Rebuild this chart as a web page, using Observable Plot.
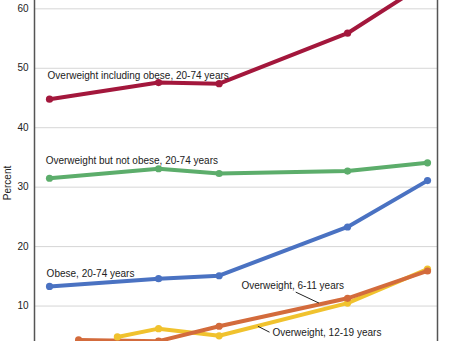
<!DOCTYPE html>
<html><head><meta charset="utf-8">
<script src="https://cdn.jsdelivr.net/npm/d3@7"></script>
<script src="https://cdn.jsdelivr.net/npm/@observablehq/plot@0.6"></script>
<style>html,body{margin:0;padding:0;overflow:hidden;background:#fff;width:454px;height:341px}</style>
</head><body><div id="chart"></div>
<script>
// Survey period midpoints (years)
const xAdult = [1961, 1972.25, 1978.5, 1991.75, 2000];
const xChild = [1964, 1972.25, 1978.5, 1991.75, 2000];
const xTeen  = [1968, 1972.25, 1978.5, 1991.75, 2000];

const seriesNames = [
  "Overweight including obese, 20-74 years",
  "Overweight but not obese, 20-74 years",
  "Obese, 20-74 years",
  "Overweight, 12-19 years",
  "Overweight, 6-11 years"
];
const seriesColors = ["#a3173c", "#5cad6b", "#4a72c2", "#f0c22e", "#d36b3c"];

const overweightInclObese = [44.8, 47.6, 47.4, 55.9, 64.5];
const overweightNotObese  = [31.5, 33.1, 32.3, 32.7, 34.1];
const obese               = [13.3, 14.6, 15.1, 23.3, 31.1];
const overweight12to19    = [4.8, 6.2, 5.0, 10.5, 16.2];
const overweight6to11     = [4.3, 4.1, 6.6, 11.3, 15.9];

const yTicks = [10, 20, 30, 40, 50, 60];
const xDomain = [1959.45, 2001.03];
const yDomain = [0, 61.4];

// Label annotations (text, anchor year, value)
const labelText = ["Overweight including obese, 20-74 years", "Overweight but not obese, 20-74 years", "Obese, 20-74 years", "Overweight, 6-11 years", "Overweight, 12-19 years"];
const labelX = [1960.8, 1960.6, 1960.7, 1980.8, 1984.0];
const labelY = [48.8, 34.5, 15.5, 13.4, 5.5];
// Leader lines
const leaderX1 = [1986.4, 1982.5], leaderY1 = [12.35, 6.6];
const leaderX2 = [1988.8, 1983.7], leaderY2 = [10.5, 5.6];

const seriesX = [xAdult, xAdult, xAdult, xTeen, xChild];
const seriesY = [overweightInclObese, overweightNotObese, obese, overweight12to19, overweight6to11];
const rows = seriesNames.flatMap((name, s) => seriesX[s].map((x, i) => ({series: name, x, y: seriesY[s][i]})));
const labels = labelText.map((t, i) => ({t, x: labelX[i], y: labelY[i]}));
const leaders = leaderX1.map((x1, i) => ({x1, y1: leaderY1[i], x2: leaderX2[i], y2: leaderY2[i]}));

const chart = Plot.plot({
  width: 454,
  height: 400,
  marginLeft: 34,
  marginRight: 17,
  marginTop: 0,
  marginBottom: 35,
  style: {fontFamily: "'Liberation Sans', Arial, sans-serif", fontSize: "10px", color: "#222", background: "#fff"},
  x: {domain: xDomain, axis: null},
  y: {domain: yDomain},
  color: {domain: seriesNames, range: seriesColors},
  marks: [
    Plot.gridY(yTicks, {stroke: "#d6d6d6", strokeOpacity: 1, strokeWidth: 1}),
    Plot.axisY({ticks: yTicks, tickSize: 0, tickPadding: 6, label: "Percent", labelAnchor: "center", labelOffset: 31, labelArrow: "none", fontSize: 10}),
    Plot.ruleX(xDomain, {stroke: "#555", strokeWidth: 1.5}),
    Plot.line(rows, {x: "x", y: "y", z: "series", stroke: "series", strokeWidth: 4, strokeLinejoin: "round", clip: true}),
    Plot.dot(rows, {x: "x", y: "y", fill: "series", r: 3.6, clip: true}),
    Plot.link(leaders, {x1: "x1", y1: "y1", x2: "x2", y2: "y2", stroke: "#222", strokeWidth: 1}),
    Plot.text(labels, {x: "x", y: "y", text: "t", textAnchor: "start", fill: "#222", fontSize: 10})
  ]
});
document.getElementById("chart").appendChild(chart);
</script></body></html>
